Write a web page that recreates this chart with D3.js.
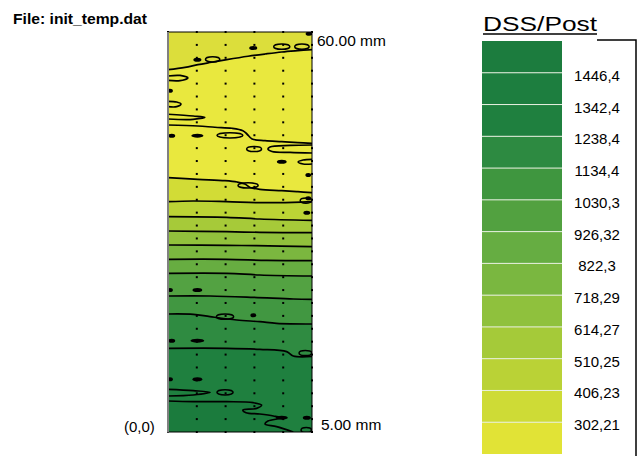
<!DOCTYPE html>
<html>
<head>
<meta charset="utf-8">
<script src="https://cdn.jsdelivr.net/npm/d3@7"></script>
<style>
  body { margin: 0; background: #fff; }
  svg text { font-family: "Liberation Sans", Arial, sans-serif; fill: #000; }
</style>
</head>
<body>
<svg id="chart" width="642" height="456"></svg>
<script>
// mesh: 5 mm wide, 60 mm high, 6 x 32 nodes
const nodeX = [0, 1, 2, 3, 4, 5];
const nodeRows = 32;

// legend levels, top box first
const legendLabels = ['1446,4', '1342,4', '1238,4', '1134,4', '1030,3', '926,32', '822,3', '718,29', '614,27', '510,25', '406,23', '302,21'];
const legendColors = ['#1c7c3e', '#1d7e3f', '#1f803f', '#2d8a41', '#3f963f', '#52a140', '#66ad42', '#7ab740', '#8fc13d', '#a5ca39', '#bad236', '#cedb36', '#e1e336'];

// band colours in the plot, top to bottom
const bandColors = ['#dcde3b', '#e9e83e', '#d2dc36', '#bcd435', '#a6ca39', '#91c13c', '#7bb73f', '#67ad41', '#53a242', '#419741', '#2f8b41', '#1f803f', '#1b7b3d'];

// contour lines [x mm, y mm] that separate the bands, top to bottom
const lineA = [[0, 54.35], [0.59, 54.7], [1.04, 55.1], [1.52, 55.46], [2.04, 55.85], [2.78, 56.36], [3.37, 56.7], [3.95, 57.0], [4.51, 57.2], [5, 57.35]];
const lineE = [[0, 38.15], [1.04, 37.9], [1.98, 37.7], [2.4, 37.5], [2.67, 37.2], [2.85, 36.68], [3.19, 36.4], [3.95, 36.2], [4.51, 36.05], [5, 35.9]];
const lineF = [[0, 34.55], [0.87, 34.65], [2.04, 34.55], [3.19, 34.4], [4.34, 34.45], [5, 34.55]];
const lineG = [[0, 32.3], [2.04, 32.2], [3.19, 31.95], [5, 31.75]];
const lineH = [[0, 30.15], [2.04, 30.05], [3.19, 29.95], [5, 29.9]];
const lineI = [[0, 28.05], [2.04, 28.0], [3.07, 27.95], [5, 27.8]];
const lineJ = [[0, 25.9], [2.04, 25.9], [3.42, 25.75], [5, 25.7]];
const lineK = [[0, 23.8], [2.04, 23.8], [3.19, 23.55], [5, 23.4]];
const lineL = [[0, 20.4], [1.46, 20.4], [2.96, 20.2], [4.35, 19.95], [5, 19.9]];
const lineM = [[0, 17.7], [0.88, 17.65], [1.46, 17.3], [2.39, 16.8], [3.19, 16.55], [3.77, 16.3], [5, 16.2]];
const lineN = [[0, 12.55], [2.04, 12.55], [3.19, 12.4], [4.12, 12.05], [4.35, 11.4], [5, 11.33]];
const lineO = [[0, 4.65], [0.88, 4.55], [2.04, 4.55], [2.96, 4.4], [3.25, 4.05], [3.08, 3.55], [2.6, 3.3], [2.71, 2.9], [3.19, 2.7], [3.66, 2.4], [3.92, 2.1], [3.47, 1.65], [3.37, 1.2], [3.77, 0.8], [4.35, 0]];
const bandLines = [lineA, lineE, lineF, lineG, lineH, lineI, lineJ, lineK, lineL, lineM, lineN, lineO];

// extra contour pieces inside one band
const openLines = [
  [[0, 53.4], [0.42, 53.48], [0.69, 53.1], [0.42, 52.7], [0, 52.73]],
  [[0, 49.6], [0.3, 49.5], [0.45, 49.2], [0.3, 48.8], [0, 48.8]],
  [[0, 47.66], [0.88, 47.4], [1.28, 47.2], [0.87, 46.9], [0, 46.95]],
  [[0, 46.05], [1.04, 45.9], [1.63, 45.71], [2.22, 45.56], [2.6, 45.2], [2.74, 44.7], [2.92, 43.95], [3.37, 43.7], [3.95, 43.55], [4.51, 43.4], [5, 43.3]],
  [[5, 43.05], [4.24, 42.98], [3.54, 42.75], [3.47, 42.45], [3.61, 42.08], [4.24, 41.93], [5, 41.85]],
  [[5, 40.9], [4.69, 40.8], [4.52, 40.5], [4.69, 40.2], [5, 40.2]],
  [[0, 6.4], [0.88, 6.2], [1.46, 5.95], [0.88, 5.55], [0, 5.4]]
];

// small closed contours [x mm, y mm, half width mm]
const loops = [[3.95, 57.8, 0.28], [4.65, 57.8, 0.25], [1.55, 55.9, 0.25], [2.15, 44.5, 0.45], [2.99, 42.45, 0.26], [2.78, 36.98, 0.35], [4.79, 34.72, 0.2], [1.98, 17.3, 0.3], [4.77, 11.85, 0.22], [1.98, 5.95, 0.28], [4.8, 0.3, 0.18]];
const blobs = [[2.96, 57.6, 0.14], [1.02, 55.85, 0.14], [0.07, 51.2, 0.1], [0.13, 44.45, 0.12], [1.02, 44.45, 0.21], [3.95, 40.55, 0.17], [4.87, 38.55, 0.1], [4.87, 35.05, 0.1], [4.82, 32.9, 0.12], [0.07, 21.3, 0.1], [1.02, 21.3, 0.17], [2.96, 17.5, 0.1], [0.13, 13.7, 0.12], [1.02, 13.7, 0.24], [0.07, 7.9, 0.1], [1.02, 7.9, 0.17], [3.95, 2.15, 0.21], [4.82, 2.15, 0.14], [4.9, 59.75, 0.12]];

const svg = d3.select('#chart');
const plot = { left: 168, right: 312, top: 32, bottom: 432 };

const x = d3.scaleLinear().domain([0, 5]).range([plot.left, plot.right]);
const y = d3.scaleLinear().domain([0, 60]).range([plot.bottom, plot.top]);

svg.append('text')
  .attr('x', 13).attr('y', 23.5)
  .attr('textLength', 134).attr('lengthAdjust', 'spacingAndGlyphs')
  .style('font-size', '15.5px').style('font-weight', 'bold')
  .text('File: init_temp.dat');

const g = svg.append('g');
g.append('clipPath').attr('id', 'plotclip')
  .append('rect')
    .attr('x', plot.left).attr('y', plot.top)
    .attr('width', plot.right - plot.left).attr('height', plot.bottom - plot.top);

const inner = g.append('g').attr('clip-path', 'url(#plotclip)');

inner.append('rect')
  .attr('x', plot.left).attr('y', plot.top)
  .attr('width', plot.right - plot.left).attr('height', plot.bottom - plot.top)
  .attr('fill', bandColors[0]);

const curve = d3.curveCatmullRom.alpha(0.5);
const line = d3.line().x(d => x(d[0])).y(d => y(d[1])).curve(curve);

// each band is painted from its upper contour down to the bottom edge
bandLines.forEach((pts, i) => {
  const last = pts[pts.length - 1];
  const closing = last[1] > 0 ? [[5, 0], [0, 0]] : [[0, 0]];
  inner.append('path')
    .attr('d', line(pts) + closing.map(p => `L${x(p[0])},${y(p[1])}`).join('') + 'Z')
    .attr('fill', bandColors[i + 1]);
});

inner.selectAll('path.contour')
  .data(bandLines.concat(openLines))
  .enter().append('path')
    .attr('class', 'contour')
    .attr('d', line)
    .attr('fill', 'none')
    .attr('stroke', '#000')
    .attr('stroke-width', 1.7);

inner.selectAll('ellipse.loop')
  .data(loops)
  .enter().append('ellipse')
    .attr('class', 'loop')
    .attr('cx', d => x(d[0])).attr('cy', d => y(d[1]))
    .attr('rx', d => x(d[2]) - x(0)).attr('ry', 2.6)
    .attr('fill', 'none')
    .attr('stroke', '#000')
    .attr('stroke-width', 1.5);

inner.selectAll('ellipse.blob')
  .data(blobs)
  .enter().append('ellipse')
    .attr('class', 'blob')
    .attr('cx', d => x(d[0])).attr('cy', d => y(d[1]))
    .attr('rx', d => x(d[2]) - x(0)).attr('ry', 2)
    .attr('fill', '#000');

// mesh nodes
const nodes = [];
d3.range(nodeRows).forEach(r => nodeX.forEach(nx => nodes.push([nx, r * 60 / (nodeRows - 1)])));
g.selectAll('rect.node')
  .data(nodes)
  .enter().append('rect')
    .attr('class', 'node')
    .attr('x', d => x(d[0]) - 1).attr('y', d => y(d[1]) - 1)
    .attr('width', 2).attr('height', 2)
    .attr('fill', '#000');

// frame: grey left side, black elsewhere
g.append('path')
  .attr('d', `M${plot.left},${plot.top}H${plot.right}V${plot.bottom}H${plot.left}`)
  .attr('fill', 'none').attr('stroke', '#000').attr('stroke-width', 1);
g.append('line')
  .attr('x1', plot.left).attr('x2', plot.left)
  .attr('y1', plot.top).attr('y2', plot.bottom + 0.5)
  .attr('stroke', '#808080').attr('stroke-width', 2);

svg.append('text').attr('x', 317).attr('y', 45.5).style('font-size', '15.5px').text('60.00 mm');
svg.append('text').attr('x', 321).attr('y', 429.5).style('font-size', '15.5px').text('5.00 mm');
svg.append('text').attr('x', 124).attr('y', 432).style('font-size', '15px').text('(0,0)');

// legend
const legend = svg.append('g');
const ly = d3.scaleBand().domain(d3.range(legendColors.length)).range([41, 454]).padding(0);

legend.append('text')
  .attr('x', 483).attr('y', 31)
  .attr('textLength', 114).attr('lengthAdjust', 'spacingAndGlyphs')
  .style('font-size', '20px')
  .text('DSS/Post');
legend.append('line')
  .attr('x1', 483).attr('x2', 597).attr('y1', 34).attr('y2', 34)
  .attr('stroke', '#000').attr('stroke-width', 1.5);
legend.append('path')
  .attr('d', 'M597,40H636V456')
  .attr('fill', 'none').attr('stroke', '#000').attr('stroke-width', 1.5);

legend.selectAll('rect.key')
  .data(legendColors)
  .enter().append('rect')
    .attr('class', 'key')
    .attr('x', 482).attr('y', (d, i) => ly(i))
    .attr('width', 80).attr('height', ly.bandwidth())
    .attr('fill', d => d);

legend.selectAll('line.sep')
  .data(legendLabels)
  .enter().append('line')
    .attr('class', 'sep')
    .attr('x1', 482).attr('x2', 562)
    .attr('y1', (d, i) => ly(i + 1)).attr('y2', (d, i) => ly(i + 1))
    .attr('stroke', '#e8f0e0').attr('stroke-width', 1);

legend.selectAll('text.lab')
  .data(legendLabels)
  .enter().append('text')
    .attr('class', 'lab')
    .attr('x', 597).attr('y', (d, i) => ly(i + 1) + 8)
    .attr('text-anchor', 'middle')
    .style('font-size', '15px')
    .text(d => d);
</script>
</body>
</html>
